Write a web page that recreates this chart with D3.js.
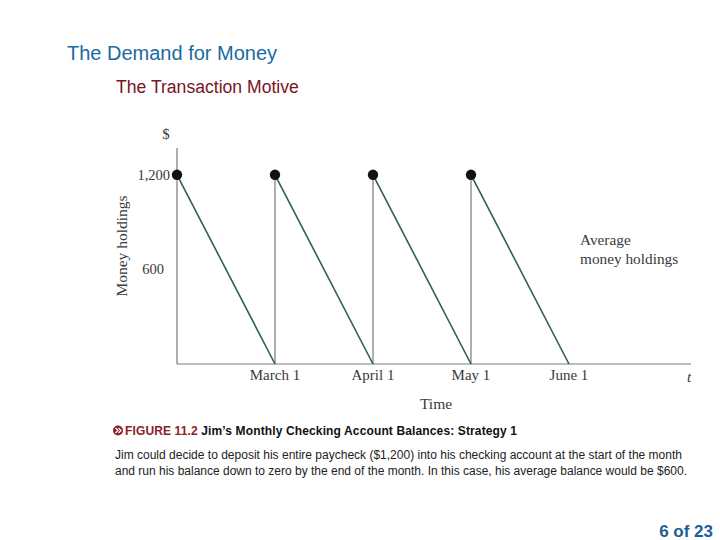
<!DOCTYPE html>
<html><head><meta charset="utf-8">
<script src="https://cdn.jsdelivr.net/npm/d3@7"></script>
<style>body{margin:0;background:#fff;} svg{display:block;}</style>
</head><body>
<svg id="c" width="720" height="540"></svg>
<script>
const monthIndex = [0, 1, 2, 3, 4];
const monthLabels = ["February 1", "March 1", "April 1", "May 1", "June 1"];
const tickShown = [1, 2, 3, 4];
const depositMonths = [0, 1, 2, 3];
const depositAmount = [1200, 1200, 1200, 1200];
const yTicks = [600, 1200];
const yTickLabels = ["600", "1,200"];

const svg = d3.select("#c");
const x = d3.scaleLinear().domain([0, 5.245]).range([177, 691]);
const y = d3.scaleLinear().domain([0, 1370]).range([364, 148]);

// Titles
svg.append("text").attr("x", 67).attr("y", 60).attr("font-family", "Arial, Liberation Sans, sans-serif")
  .attr("font-size", 20).attr("fill", "#1b6aa0").text("The Demand for Money");
svg.append("text").attr("x", 116).attr("y", 93).attr("font-family", "Arial, Liberation Sans, sans-serif")
  .attr("font-size", 17.6).attr("fill", "#7a1426").text("The Transaction Motive");

const axisCol = "#7a7a7a";
const g = svg.append("g");
g.append("line").attr("x1", x(0)).attr("x2", x(0)).attr("y1", y.range()[1]).attr("y2", y(0)).attr("stroke", axisCol).attr("stroke-width", 1.2);
g.append("line").attr("x1", x(0)).attr("x2", x.range()[1]).attr("y1", y(0)).attr("y2", y(0)).attr("stroke", axisCol).attr("stroke-width", 1.2);

depositMonths.slice(1).forEach((m, i) => {
  g.append("line").attr("x1", x(m)).attr("x2", x(m)).attr("y1", y(depositAmount[i + 1])).attr("y2", y(0))
    .attr("stroke", axisCol).attr("stroke-width", 1.2);
});
depositMonths.forEach((m, i) => {
  g.append("line").attr("x1", x(m)).attr("y1", y(depositAmount[i])).attr("x2", x(m + 1)).attr("y2", y(0))
    .attr("stroke", "#2f5f58").attr("stroke-width", 1.6);
});
depositMonths.forEach((m, i) => {
  g.append("circle").attr("cx", x(m)).attr("cy", y(depositAmount[i])).attr("r", 5.2).attr("fill", "#111");
});

const serif = "Liberation Serif, Times New Roman, serif";
const txtCol = "#3a3a3a";
yTicks.forEach((v, i) => {
  g.append("text").attr("x", v === 1200 ? 170 : 164).attr("y", y(v) + 5).attr("text-anchor", "end")
    .attr("font-family", serif).attr("font-size", 14.5).attr("fill", txtCol).text(yTickLabels[i]);
});
g.append("text").attr("x", 166).attr("y", 139).attr("text-anchor", "middle").attr("font-family", serif)
  .attr("font-size", 15).attr("fill", txtCol).text("$");
g.append("text").attr("transform", "translate(127,246) rotate(-90)").attr("text-anchor", "middle")
  .attr("font-family", serif).attr("font-size", 15.5).attr("fill", txtCol).text("Money holdings");

tickShown.forEach(i => {
  g.append("text").attr("x", x(monthIndex[i])).attr("y", 380).attr("text-anchor", "middle")
    .attr("font-family", serif).attr("font-size", 15).attr("fill", txtCol).text(monthLabels[i]);
});
g.append("text").attr("x", 689).attr("y", 382).attr("text-anchor", "middle").attr("font-family", serif)
  .attr("font-style", "italic").attr("font-size", 15).attr("fill", txtCol).text("t");
g.append("text").attr("x", 436).attr("y", 409).attr("text-anchor", "middle").attr("font-family", serif)
  .attr("font-size", 15.5).attr("fill", txtCol).text("Time");

g.append("text").attr("x", 580).attr("y", 245).attr("font-family", serif).attr("font-size", 15.3).attr("fill", txtCol).text("Average");
g.append("text").attr("x", 580).attr("y", 264).attr("font-family", serif).attr("font-size", 15.3).attr("fill", txtCol).text("money holdings");

const sans = "Arial, Liberation Sans, sans-serif";
svg.append("circle").attr("cx", 118).attr("cy", 430.5).attr("r", 5).attr("fill", "#8a1e2a");
svg.append("path").attr("d", "M115.5,428 L118,430.5 L115.5,433 M118.5,428 L121,430.5 L118.5,433")
  .attr("stroke", "#fff").attr("stroke-width", 1.2).attr("fill", "none");
const cap = svg.append("text").attr("x", 125).attr("y", 435).attr("font-family", sans).attr("font-size", 12)
  .attr("font-weight", "bold").attr("textLength", 392);
cap.append("tspan").attr("fill", "#8a1e2a").text("FIGURE 11.2 ");
cap.append("tspan").attr("fill", "#111").text(" Jim’s Monthly Checking Account Balances:  Strategy 1");

svg.append("text").attr("x", 115).attr("y", 459).attr("font-family", sans).attr("font-size", 12).attr("fill", "#222")
  .attr("textLength", 567).text("Jim could decide to deposit his entire paycheck ($1,200) into his checking account at the start of the month");
svg.append("text").attr("x", 115).attr("y", 475).attr("font-family", sans).attr("font-size", 12).attr("fill", "#222")
  .attr("textLength", 572).text("and run his balance down to zero by the end of the month. In this case, his average balance would be $600.");

svg.append("text").attr("x", 713).attr("y", 537).attr("text-anchor", "end").attr("font-family", sans)
  .attr("font-size", 17).attr("font-weight", "bold").attr("fill", "#1b5e96").text("6 of 23");
</script>
</body></html>
